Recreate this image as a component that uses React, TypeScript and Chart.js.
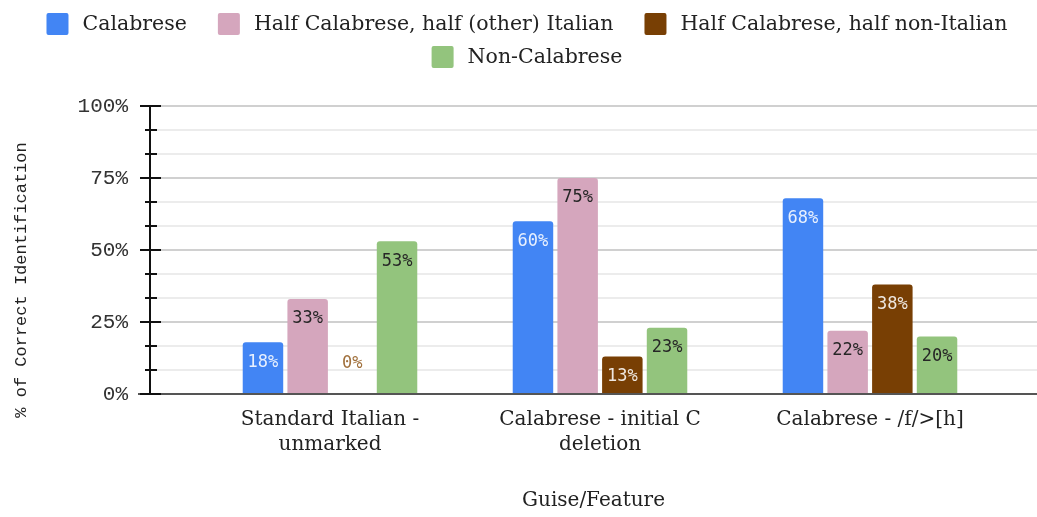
import { useEffect, useRef } from 'react';
import { Chart, registerables } from 'chart.js';
Chart.register(...registerables);

const categories: string[][] = [
  ['Standard Italian -', 'unmarked'],
  ['Calabrese - initial C', 'deletion'],
  ['Calabrese - /f/>[h]'],
];
const seriesNames = [
  'Calabrese',
  'Half Calabrese, half (other) Italian',
  'Half Calabrese, half non-Italian',
  'Non-Calabrese',
];
const calabrese = [18, 60, 68];
const halfItalian = [33, 75, 22];
const halfNonItalian = [0, 13, 38];
const nonCalabrese = [53, 23, 20];
const seriesValues = [calabrese, halfItalian, halfNonItalian, nonCalabrese];
const seriesColors = ['#4285f4', '#d5a6bd', '#783f04', '#93c47d'];
const labelColors = ['rgba(255,255,255,0.88)', '#262626', 'rgba(255,255,255,0.88)', '#262626'];
const zeroLabelColor = '#a0703c';
const yMajorTicks = [0, 25, 50, 75, 100];
const yTickLabels = ['0%', '25%', '50%', '75%', '100%'];
const minorPerMajor = 2;
const xTitle = 'Guise/Feature';
const yTitle = '% of Correct Identification';

const SLAB = "'DejaVu Serif', serif";
const MONO = "'Liberation Mono', 'DejaVu Sans Mono', monospace";
const LABELMONO = "'DejaVu Sans Mono', monospace";

function allYTicks(): number[] {
  const out: number[] = [];
  for (let i = 0; i < yMajorTicks.length; i++) {
    out.push(yMajorTicks[i]);
    if (i < yMajorTicks.length - 1) {
      const a = yMajorTicks[i], b = yMajorTicks[i + 1];
      for (let k = 1; k <= minorPerMajor; k++) out.push(a + ((b - a) * k) / (minorPerMajor + 1));
    }
  }
  return out;
}
const majorIndex = (v: number) => yMajorTicks.findIndex((m) => Math.abs(m - v) < 1e-6);

const legendPlugin = {
  id: 'customLegend',
  afterDraw(chart: any) {
    const ctx = chart.ctx;
    ctx.save();
    ctx.font = `20.5px ${SLAB}`;
    const box = 22, gapText = 14, gapItem = 31, maxW = 1000, cx = 527;
    const items = seriesNames.map((n, i) => ({ n, c: seriesColors[i], w: box + gapText + ctx.measureText(n).width }));
    const rows: any[][] = [[]];
    let rw = 0;
    items.forEach((it) => {
      const add = rows[rows.length - 1].length ? gapItem + it.w : it.w;
      if (rows[rows.length - 1].length && rw + add > maxW) {
        rows.push([it]);
        rw = it.w;
      } else {
        rows[rows.length - 1].push(it);
        rw += add;
      }
    });
    const rowY = [24, 57];
    rows.forEach((row, r) => {
      const total = row.reduce((s, it, i) => s + it.w + (i ? gapItem : 0), 0);
      let x = cx - total / 2;
      const y = rowY[r] ?? 24 + r * 33;
      row.forEach((it) => {
        ctx.fillStyle = it.c;
        ctx.beginPath();
        (ctx as any).roundRect(x, y - box / 2, box, box, 2);
        ctx.fill();
        ctx.fillStyle = '#222';
        ctx.textAlign = 'left';
        ctx.textBaseline = 'middle';
        ctx.fillText(it.n, x + box + gapText, y + 1);
        x += it.w + gapItem;
      });
    });
    // y title
    ctx.font = `17px ${MONO}`;
    ctx.fillStyle = '#222';
    ctx.translate(21, 280);
    ctx.rotate(-Math.PI / 2);
    ctx.textAlign = 'center';
    ctx.textBaseline = 'middle';
    ctx.fillText(yTitle, 0, 0);
    ctx.restore();
  },
};

const axisPlugin = {
  id: 'axisDecor',
  afterDatasetsDraw(chart: any) {
    const ctx = chart.ctx;
    const y = chart.scales.y;
    const { left, right, top, bottom } = chart.chartArea;
    ctx.save();
    ctx.strokeStyle = '#555';
    ctx.lineWidth = 2;
    ctx.beginPath();
    ctx.moveTo(left - 12, bottom);
    ctx.lineTo(right, bottom);
    ctx.stroke();
    ctx.strokeStyle = '#111';
    ctx.lineWidth = 2;
    ctx.beginPath();
    ctx.moveTo(left, top);
    ctx.lineTo(left, bottom);
    ctx.stroke();
    allYTicks().forEach((v) => {
      const py = Math.round(y.getPixelForValue(v));
      const major = majorIndex(v) >= 0;
      ctx.lineWidth = 2;
      ctx.beginPath();
      ctx.moveTo(left - (major ? 10 : 5), py);
      ctx.lineTo(left + (major ? 11 : 7), py);
      ctx.stroke();
    });
    ctx.restore();
  },
};

const dataLabelPlugin = {
  id: 'barLabels',
  afterDatasetsDraw(chart: any) {
    const ctx = chart.ctx;
    const base = chart.scales.y.getPixelForValue(0);
    ctx.save();
    ctx.font = `17px ${LABELMONO}`;
    ctx.textAlign = 'center';
    ctx.textBaseline = 'middle';
    chart.data.datasets.forEach((ds: any, i: number) => {
      const meta = chart.getDatasetMeta(i);
      meta.data.forEach((bar: any, j: number) => {
        const v = seriesValues[i][j];
        if (v === 0) {
          ctx.fillStyle = zeroLabelColor;
          ctx.fillText(`${v}%`, bar.x, base - 30);
        } else {
          ctx.fillStyle = labelColors[i];
          ctx.fillText(`${v}%`, bar.x, bar.y + 20);
        }
      });
    });
    ctx.restore();
  },
};

export default function App() {
  const ref = useRef<HTMLCanvasElement | null>(null);
  useEffect(() => {
    if (!ref.current) return;
    const chart = new Chart(ref.current, {
      type: 'bar',
      data: {
        datasets: seriesValues.map((vals, i) => ({
          label: seriesNames[i],
          data: vals.map((v, j) => ({ x: j, y: v })),
          backgroundColor: seriesColors[i],
          borderRadius: 3,
          barPercentage: 0.906,
          categoryPercentage: 0.662,
        })),
      },
      options: {
        animation: false,
        responsive: true,
        maintainAspectRatio: false,
        layout: { padding: { top: 106, left: 0, right: 0, bottom: 0 } },
        plugins: { legend: { display: false }, tooltip: { enabled: false } },
        scales: {
          x: {
            type: 'linear',
            min: -2 / 3,
            max: 707 / 270,
            offset: false,
            grid: { display: false },
            border: { display: false },
            afterBuildTicks: (s: any) => {
              s.ticks = categories.map((_, i) => ({ value: i }));
            },
            afterFit: (s: any) => {
              s.height = 123;
            },
            ticks: {
              autoSkip: false,
              maxRotation: 0,
              padding: 5,
              color: '#222',
              font: { family: SLAB, size: 20, lineHeight: 1.25 },
              callback: (v: any) => categories[v as number] ?? '',
            },
            title: {
              display: true,
              text: xTitle,
              color: '#222',
              font: { family: SLAB, size: 20, lineHeight: 1.2 },
              padding: { top: 0, bottom: 4 },
            },
          },
          y: {
            min: 0,
            max: 100,
            afterBuildTicks: (s: any) => {
              s.ticks = allYTicks().map((v) => ({ value: v }));
            },
            afterFit: (s: any) => {
              s.width = 150;
            },
            border: { display: false },
            grid: {
              drawTicks: false,
              lineWidth: 2,
              color: (c: any) => (majorIndex(c.tick?.value) >= 0 ? '#d0d0d0' : '#ececec'),
            },
            ticks: {
              autoSkip: false,
              padding: 22,
              color: '#333',
              font: { family: MONO, size: 21 },
              callback: (v: any) => {
                const idx = majorIndex(v as number);
                return idx >= 0 ? yTickLabels[idx] : '';
              },
            },
          },
        },
      },
      plugins: [axisPlugin, dataLabelPlugin, legendPlugin],
    });
    return () => chart.destroy();
  }, []);
  return (
    <div style={{ position: 'fixed', left: 0, top: 0, width: 1037, height: 517, background: '#fff' }}>
      <canvas ref={ref} style={{ display: 'block' }} />
    </div>
  );
}
